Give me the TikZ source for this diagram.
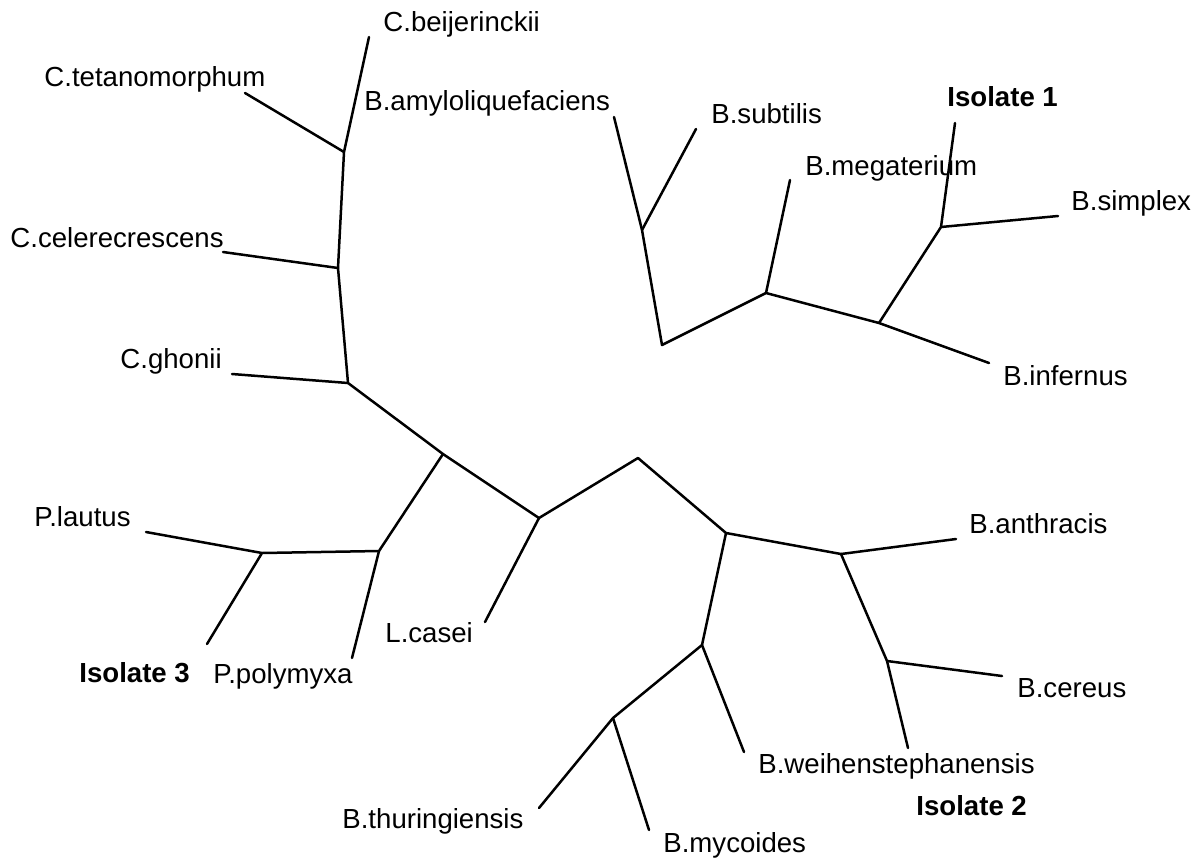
\documentclass[tikz,border=0pt]{standalone}
\usepackage{fontspec}
\setmainfont{Liberation Sans}
\begin{document}
\begin{tikzpicture}[x=0.5pt,y=-0.5pt,
  branch/.style={line width=1.25pt,line cap=round,line join=round},
  lbl/.style={anchor=base west,inner sep=0pt,font=\fontsize{13.8}{16}\selectfont},
  bl/.style={lbl,font=\fontsize{13.8}{16}\selectfont\bfseries}]
\useasboundingbox (0,0) rectangle (1203,862);
% internal nodes
\coordinate (A) at (344,152);
\coordinate (B) at (338,268);
\coordinate (C) at (348,383);
\coordinate (I) at (443,454);
\coordinate (J) at (379,551);
\coordinate (K) at (262,553);
\coordinate (L) at (539,518);
\coordinate (M) at (638,458);
\coordinate (N) at (726,533);
\coordinate (O) at (841,554);
\coordinate (R) at (887,661);
\coordinate (P) at (702,645);
\coordinate (Q) at (613,718);
\coordinate (D) at (642,230);
\coordinate (E) at (662,345);
\coordinate (F) at (766,293);
\coordinate (G) at (879,323);
\coordinate (H) at (941,227);
% leaf ends
\coordinate (lbeij) at (369,37);
\coordinate (ltet) at (245,93);
\coordinate (lcel) at (223,252);
\coordinate (lgh) at (232,374);
\coordinate (lpoly) at (352,658);
\coordinate (llaut) at (146,532);
\coordinate (liso3) at (207,644);
\coordinate (lcas) at (485,622);
\coordinate (lanth) at (956,539);
\coordinate (lcer) at (1002,676);
\coordinate (liso2) at (908,748);
\coordinate (lweih) at (744,752);
\coordinate (lthur) at (539,808);
\coordinate (lmyc) at (649,830);
\coordinate (lamy) at (614,117);
\coordinate (lsub) at (696,129);
\coordinate (lmeg) at (790,180);
\coordinate (linf) at (989,363);
\coordinate (liso1) at (955,123);
\coordinate (lsimp) at (1058,216);
% labels
\node[lbl] (tbeij) at (383,32) {C.beijerinckii};
\node[lbl] (ttet) at (44,86) {C.tetanomorphum};
\node[lbl] (tamy) at (364,110) {B.amyloliquefaciens};
\node[lbl] (tsub) at (711,123) {B.subtilis};
\node[bl] (tiso1) at (947,106) {Isolate 1};
\node[lbl] (tmeg) at (805,175) {B.megaterium};
\node[lbl] (tsimp) at (1071,210) {B.simplex};
\node[lbl] (tcel) at (10,247) {C.celerecrescens};
\node[lbl] (tgh) at (120,368) {C.ghonii};
\node[lbl] (tinf) at (1003,385) {B.infernus};
\node[lbl] (tlaut) at (34,526) {P.lautus};
\node[lbl] (tcas) at (385,642) {L.casei};
\node[bl] (tiso3) at (79,682) {Isolate 3};
\node[lbl] (tpoly) at (213,683) {P.polymyxa};
\node[lbl] (tanth) at (969,533) {B.anthracis};
\node[lbl] (tcer) at (1017,697) {B.cereus};
\node[lbl] (tweih) at (758,773) {B.weihenstephanensis};
\node[bl] (tiso2) at (916,815) {Isolate 2};
\node[lbl] (tthur) at (342,828) {B.thuringiensis};
\node[lbl] (tmyc) at (663,852) {B.mycoides};
% branches
\draw[branch] (lbeij) -- (A) -- (B) -- (C) -- (I) -- (L) -- (M) -- (N) -- (O) -- (R) -- (liso2);
\draw[branch] (ltet) -- (A);
\draw[branch] (lcel) -- (B);
\draw[branch] (lgh) -- (C);
\draw[branch] (I) -- (J) -- (K) -- (liso3);
\draw[branch] (J) -- (lpoly);
\draw[branch] (K) -- (llaut);
\draw[branch] (L) -- (lcas);
\draw[branch] (O) -- (lanth);
\draw[branch] (R) -- (lcer);
\draw[branch] (N) -- (P) -- (Q) -- (lthur);
\draw[branch] (P) -- (lweih);
\draw[branch] (Q) -- (lmyc);
\draw[branch] (lamy) -- (D) -- (E) -- (F) -- (G) -- (H) -- (liso1);
\draw[branch] (D) -- (lsub);
\draw[branch] (F) -- (lmeg);
\draw[branch] (G) -- (linf);
\draw[branch] (H) -- (lsimp);
\end{tikzpicture}
\end{document}
